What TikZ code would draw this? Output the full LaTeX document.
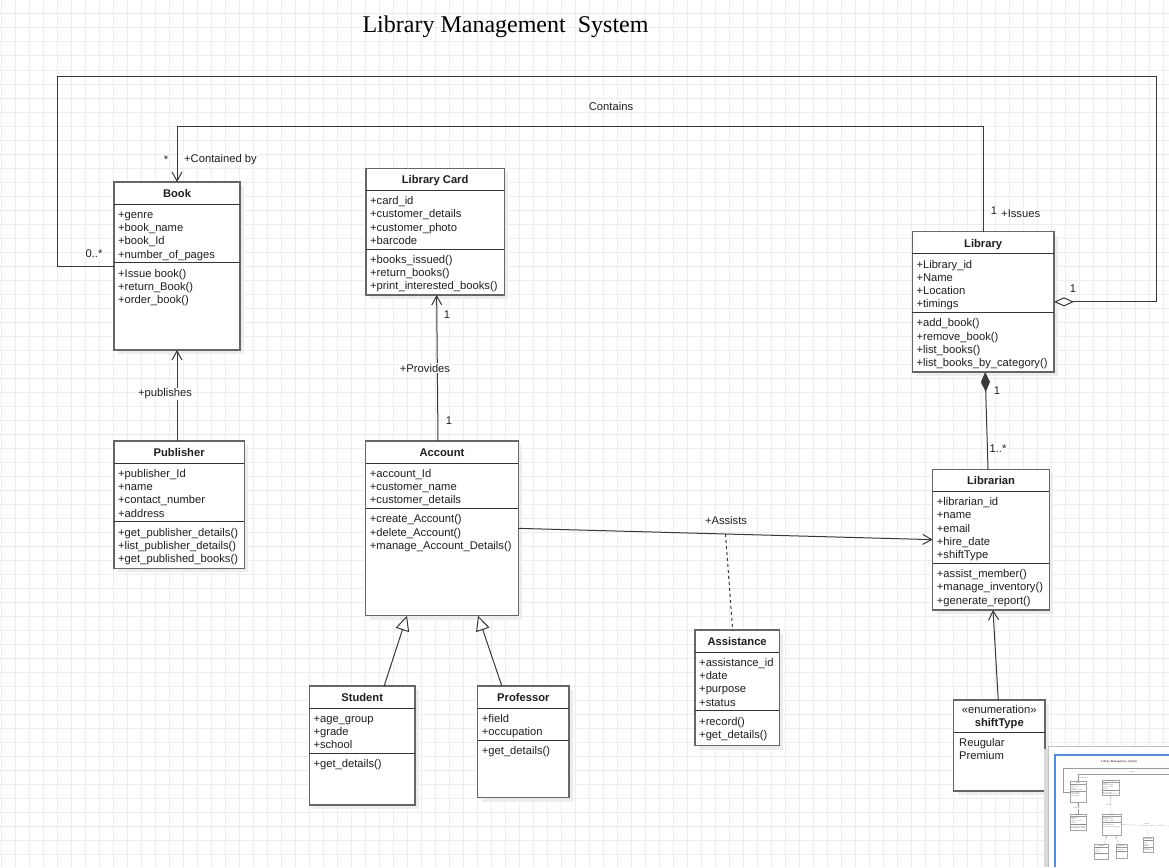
\documentclass[tikz,border=0pt]{standalone}
\usepackage{fontspec}
\setmainfont{Liberation Sans}
\newfontfamily\titlefont{Liberation Serif}
\usetikzlibrary{arrows.meta,calc}

\definecolor{viewblue}{HTML}{4A90E2}

% line widths, redefined locally for the overview copy
\def\boxlw{1.3pt}
\def\edgelw{1pt}
\def\dashlen{3pt}

\tikzset{
  gridline/.style={draw=black!7, line width=1pt},
  classbox/.style={draw=black!60, line width=\boxlw, fill=white, inner sep=0pt, outer sep=0pt},
  classline/.style={draw=black!80, line width=\edgelw},
  shadowfill/.style={fill=black!7},
  member/.style={anchor=base west, inner sep=0pt, font=\fontsize{11.2}{13}\selectfont, text=black!88},
  classtitle/.style={anchor=base, inner sep=0pt, font=\fontsize{11.2}{13}\selectfont\bfseries, text=black!88},
  edge/.style={draw=black!78, line width=\edgelw},
  dashededge/.style={draw=black!78, line width=\edgelw, dash pattern=on \dashlen off \dashlen},
  openarrow/.style={-{Straight Barb[length=0pt 9, width=0pt 10]}},
  inherit/.style={-{Triangle[fill=white, length=0pt 15, width=0pt 14]}},
  aggregate/.style={{Diamond[fill=white, length=0pt 20, width=0pt 9]}-},
  compose/.style={{Diamond[length=0pt 20, width=0pt 9]}-},
  elabel/.style={fill=white, inner sep=1pt, font=\fontsize{11.2}{13}\selectfont, text=black!88},
}

% #1 name, #2 left, #3 top, #4 right, #5 bottom, #6 title,
% #7 attributes, #8 operations, #9 number of attributes
\newcommand\umlclass[9]{%
  \fill[shadowfill] (#2+4,#3+4) rectangle (#4+4,#5+4);
  \node[classbox, anchor=north west, minimum width={#4-#2}, minimum height={#5-#3}] (#1) at (#2,#3) {};
  \draw[classline] (#2,#3+22) -- (#4,#3+22);
  \node[classtitle] at ({(#2+#4)/2},#3+15.3) {#6};
  \foreach \mt [count=\k from 0] in {#7} \node[member] at (#2+4,#3+36.3+13.3*\k) {\mt};
  \pgfmathsetmacro\sepy{#3+27.5+13.3*#9}
  \draw[classline] (#2,\sepy) -- (#4,\sepy);
  \foreach \mt [count=\k from 0] in {#8} \node[member] at (#2+4,\sepy+14.3+13.3*\k) {\mt};
}

\newcommand\librarydiagram{%
  \node[anchor=base, inner sep=0pt, font=\titlefont\fontsize{24}{28}\selectfont] (title) at (505.5,32.3) {Library Management\ \ System};

  \umlclass{book}{114}{182}{240}{350}{Book}{+genre,+book\_name,+book\_Id,+number\_of\_pages}{+Issue book(),+return\_Book(),+order\_book()}{4}
  \umlclass{card}{366}{168.3}{504.3}{295}{Library Card}{+card\_id,+customer\_details,+customer\_photo,+barcode}{+books\_issued(),+return\_books(),+print\_interested\_books()}{4}
  \umlclass{library}{912.3}{231.7}{1054}{372}{Library}{+Library\_id,+Name,+Location,+timings}{+add\_book(),+remove\_book(),+list\_books(),+list\_books\_by\_category()}{4}
  \umlclass{publisher}{114}{441}{244.3}{568.3}{Publisher}{+publisher\_Id,+name,+contact\_number,+address}{+get\_publisher\_details(),+list\_publisher\_details(),+get\_published\_books()}{4}
  \umlclass{account}{365.7}{441}{518.3}{615.7}{Account}{+account\_Id,+customer\_name,+customer\_details}{+create\_Account(),+delete\_Account(),+manage\_Account\_Details()}{3}
  \umlclass{librarian}{932.7}{469.3}{1049.3}{610}{Librarian}{+librarian\_id,+name,+email,+hire\_date,+shiftType}{+assist\_member(),+manage\_inventory(),+generate\_report()}{5}
  \umlclass{student}{309.3}{686}{415}{805}{Student}{+age\_group,+grade,+school}{+get\_details()}{3}
  \umlclass{professor}{477.7}{686}{569}{797.7}{Professor}{+field,+occupation}{+get\_details()}{2}
  \umlclass{assistance}{695}{630}{779.3}{745.7}{Assistance}{+assistance\_id,+date,+purpose,+status}{+record(),+get\_details()}{4}

  % enumeration
  \fill[shadowfill] (957.5,704) rectangle (1049,795);
  \node[classbox, anchor=north west, minimum width=91.5, minimum height=91] (shifttype) at (953.5,700) {};
  \draw[classline] (953.5,732.7) -- (1045,732.7);
  \node[classtitle, font=\fontsize{11.2}{13}\selectfont] at (999.25,713) {«enumeration»};
  \node[classtitle] at (999.25,726) {shiftType};
  \node[member] at (959,746.7) {Reugular};
  \node[member] at (959,759.4) {Premium};

  % routing points
  \coordinate (outerright) at (1156.7,76.7);
  \coordinate (outerleft) at (57.7,76.7);
  \coordinate (innertop) at (0,126);

  % Library contains Books
  \draw[edge, aggregate] (library.east) -- (library.east -| outerright) -- (outerright) -- (outerleft) -- (outerleft |- book.west) -- (book.west);
  % Library issues Books
  \draw[edge, openarrow] (library.north) -- (library.north |- innertop) -- (book.north |- innertop) -- (book.north);
  % Publisher publishes Book
  \draw[edge, openarrow] (book.south |- publisher.north) -- (book.south);
  % Account provides Library Card
  \draw[edge, openarrow] ([xshift=-4pt]account.north) -- ([xshift=1.5pt]card.south);
  % Account assisted by Librarian
  \draw[edge, openarrow] (account.east) -- (librarian.west);
  \path (account.east) -- (librarian.west) coordinate[pos=0.5] (assistmid);
  \draw[dashededge] (assistmid) -- ([xshift=-4.5pt]assistance.north);
  % Library composed of Librarians
  \draw[edge, compose] ([xshift=2pt]library.south) -- ([xshift=-3pt]librarian.north);
  % generalisations
  \draw[edge, inherit] ([xshift=22pt]student.north) -- ([xshift=-35pt]account.south);
  \draw[edge, inherit] ([xshift=-21.5pt]professor.north) -- ([xshift=36pt]account.south);
  % shift type
  \draw[edge, openarrow] ([xshift=-1pt]shifttype.north) -- ([xshift=2pt]librarian.south);

  % edge labels
  \node[elabel] (lcontains) at (611,106) {Contains};
  \node[elabel] (lstar) at (166,160) {*};
  \node[elabel, anchor=west] (lcontained) at (183,159.5) {+Contained by};
  \node[elabel] (lzeromany) at (94,254) {0..*};
  \node[elabel] (lissuesone) at (994,211) {1};
  \node[elabel, anchor=west] (lissues) at (1000,214) {+Issues};
  \node[elabel] (laggone) at (1073,289) {1};
  \node[elabel] (lpublishes) at (165,394) {+publishes};
  \node[elabel] (lprovides) at (425,368) {+Provides};
  \node[elabel] (lcardone) at (447,315) {1};
  \node[elabel] (lacctone) at (449,421) {1};
  \node[elabel] (lassists) at (726,520) {+Assists};
  \node[elabel] (lcompone) at (997,391) {1};
  \node[elabel] (lcompmany) at (998,449) {1..*};
}

\begin{document}
\begin{tikzpicture}[x=1pt, y=-1pt]
  \useasboundingbox (0,0) rectangle (1169,867);
  \fill[white] (0,0) rectangle (1169,867);
  % background grid
  \foreach \gx in {1.3,15.3,...,1169} \draw[gridline] (\gx,0) -- (\gx,867);
  \foreach \gy in {0,14,...,867} \draw[gridline] (0,\gy) -- (1169,\gy);

  \librarydiagram

  % overview panel
  \fill[black!14] (1044,749) rectangle (1048,867);
  \fill[white] (1048,746) rectangle (1169,867);
  \draw[black!25, line width=0.6pt] (1048,867) -- (1048,746) -- (1169,746);
  \begin{scope}
    \clip (1049,747) rectangle (1169,867);
    \begin{scope}[shift={(1055.9,758.6)}, scale=0.125, transform shape]
      \def\boxlw{0.2pt}
      \def\edgelw{0.15pt}
      \def\dashlen{0.5pt}
      \tikzset{
        classbox/.append style={draw=black!35},
        classline/.append style={draw=black!40},
        edge/.append style={draw=black!40},
        dashededge/.append style={draw=black!40},
        member/.append style={text=black!60},
        classtitle/.append style={text=black!60},
        elabel/.append style={text=black!60},
      }
      \librarydiagram
    \end{scope}
  \end{scope}
  \draw[viewblue, line width=1.5pt] (1055,867) -- (1055,755) -- (1169,755);
\end{tikzpicture}
\end{document}
